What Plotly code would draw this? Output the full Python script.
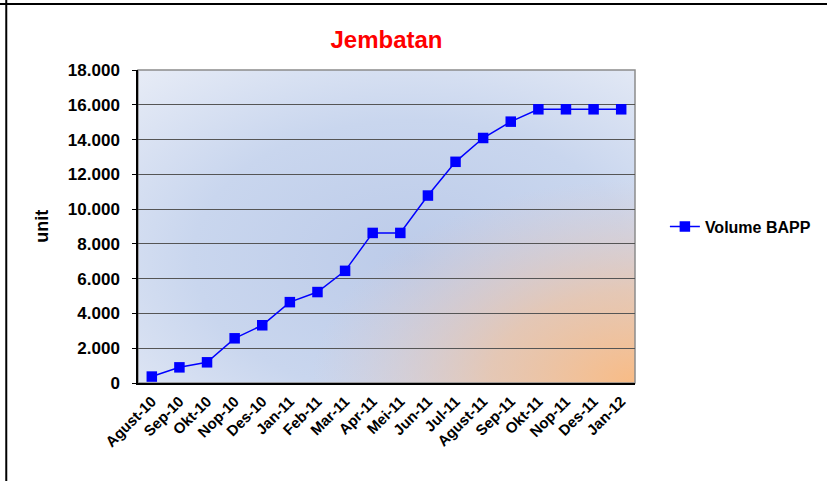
import base64
import plotly.graph_objects as go

months = ["Agust-10", "Sep-10", "Okt-10", "Nop-10", "Des-10", "Jan-11", "Feb-11",
          "Mar-11", "Apr-11", "Mei-11", "Jun-11", "Jul-11", "Agust-11", "Sep-11",
          "Okt-11", "Nop-11", "Des-11", "Jan-12"]
volume_bapp = [370, 900, 1190, 2570, 3320, 4650, 5230, 6450, 8630, 8630,
               10780, 12720, 14090, 15030, 15740, 15740, 15740, 15740]
y_ticks = [0, 2000, 4000, 6000, 8000, 10000, 12000, 14000, 16000, 18000]
y_tick_text = ["0", "2.000", "4.000", "6.000", "8.000", "10.000", "12.000",
               "14.000", "16.000", "18.000"]

svg = """<svg xmlns="http://www.w3.org/2000/svg" width="498" height="313" viewBox="0 0 498 313" preserveAspectRatio="none">
<defs>
<radialGradient id="b" cx="0.55" cy="0.6" r="0.8">
<stop offset="0" stop-color="#bccbe9"/>
<stop offset="0.55" stop-color="#c9d6ee"/>
<stop offset="1" stop-color="#e6ebf6"/>
</radialGradient>
<radialGradient id="o" cx="1" cy="1" r="0.65">
<stop offset="0" stop-color="#f8bb85" stop-opacity="1"/>
<stop offset="0.45" stop-color="#eec3a3" stop-opacity="0.75"/>
<stop offset="1" stop-color="#e0c8c8" stop-opacity="0"/>
</radialGradient>
</defs>
<rect x="0" y="0" width="498" height="313" fill="url(#b)"/>
<rect x="0" y="0" width="498" height="313" fill="url(#o)"/>
</svg>"""
bg_uri = "data:image/svg+xml;base64," + base64.b64encode(svg.encode()).decode()

fig = go.Figure()
fig.add_trace(go.Scatter(
    x=months, y=volume_bapp, mode="lines+markers", name="Volume BAPP",
    line=dict(color="#0000ff", width=1.5),
    marker=dict(symbol="square", size=10.5, color="#0000ff"),
))

font_family = "Liberation Sans, Arial, sans-serif"

fig.update_layout(
    width=827, height=481,
    margin=dict(l=138, r=191, t=70, b=98),
    paper_bgcolor="white",
    plot_bgcolor="rgba(0,0,0,0)",
    font=dict(family=font_family, color="black"),
    title=dict(text="<b>Jembatan</b>", x=0.5, xref="paper", xanchor="center",
               y=1 - 40 / 481, yanchor="middle",
               font=dict(size=24, color="#ff0000", family=font_family)),
    showlegend=True,
    legend=dict(x=1.058, y=0.5, xanchor="left", yanchor="middle",
                font=dict(size=16, family=font_family),
                bgcolor="rgba(0,0,0,0)", borderwidth=0),
    images=[dict(source=bg_uri, xref="paper", yref="paper", x=0, y=1,
                 sizex=1, sizey=1, sizing="stretch", layer="below",
                 xanchor="left", yanchor="top")],
    xaxis=dict(type="category", tickangle=-45,
               tickfont=dict(size=15, family=font_family),
               showgrid=False, showline=True, linecolor="black", linewidth=1.5,
               ticks="", ticklabelstandoff=2, range=[-0.5, len(months) - 0.5]),
    yaxis=dict(range=[0, 18000], tickvals=y_ticks, ticktext=y_tick_text,
               tickfont=dict(size=17, family=font_family),
               showgrid=True, gridcolor="#555555", gridwidth=1.4,
               showline=True, linecolor="black", linewidth=1.5,
               ticks="outside", ticklen=4, tickcolor="black", zeroline=False,
               ticklabelstandoff=9),
    shapes=[
        dict(type="rect", xref="paper", yref="paper", x0=0, y0=0, x1=1, y1=1,
             line=dict(color="#8c8c8c", width=1.5), layer="below"),
        dict(type="line", xref="paper", yref="paper", x0=-1, x1=2,
             y0=1 + 66 / 313, y1=1 + 66 / 313, line=dict(color="black", width=2)),
        dict(type="line", xref="paper", yref="paper", x0=-132 / 498, x1=-132 / 498,
             y0=-2, y1=2, line=dict(color="black", width=2)),
    ],
    annotations=[dict(text="<b>unit</b>", xref="paper", yref="paper",
                      x=-97 / 498, y=0.5, xanchor="center", yanchor="middle",
                      textangle=-90, showarrow=False,
                      font=dict(size=18, family=font_family))],
)
fig.update_xaxes(tickfont_weight="bold")
fig.update_yaxes(tickfont_weight="bold")
fig.update_layout(legend_font_weight="bold")

fig.write_html("out.html", config={"displayModeBar": False},
               post_script="document.body.style.margin='0';document.body.style.overflow='hidden';")
